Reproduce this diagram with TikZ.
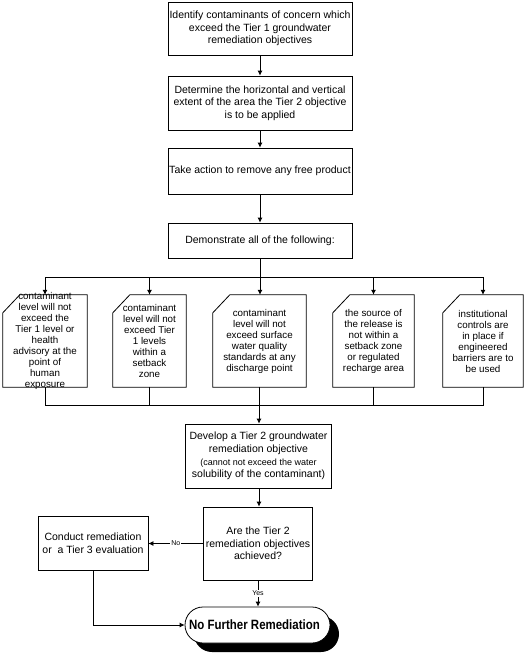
\documentclass[tikz,border=0pt]{standalone}
\usepackage{fontspec}
\setmainfont{Liberation Sans}
\usetikzlibrary{arrows.meta,shadows}
\begin{document}
\begin{tikzpicture}[x=1pt,y=-1pt,
  ln/.style={line width=0.8pt},
  arr/.style={line width=0.8pt,-{Latex[length=5pt,width=5pt]}},
  mainbox/.style={draw,line width=0.8pt,align=center,inner sep=0pt,font=\fontsize{10.5}{12.7}\selectfont},
  sideshape/.style={inner sep=0pt,minimum height=92pt},
  sidetext/.style={align=center,inner sep=0pt,font=\fontsize{9.8}{11}\selectfont},
  lbl/.style={fill=white,inner sep=1pt,font=\fontsize{7}{8}\selectfont},
  term/.style={draw,line width=0.8pt,rounded corners=18pt,minimum width=145pt,minimum height=36pt,fill=white,inner sep=0pt,
    drop shadow={shadow xshift=9pt,shadow yshift=-9pt,fill=black,opacity=1}}]
\useasboundingbox (0,0) rectangle (526,656);

% main column
\node[mainbox,minimum width=184pt,minimum height=53pt] (b1) at (260,28.5) {Identify contaminants of concern which\\exceed the Tier 1 groundwater\\remediation objectives};
\node[mainbox,minimum width=184pt,minimum height=54pt] (b2) at (260,103) {Determine the horizontal and vertical\\extent of the area the Tier 2 objective\\is to be applied};
\node[mainbox,minimum width=184pt,minimum height=46pt] (b3) at (260,171) {Take action to remove any free product};
\node[mainbox,minimum width=184pt,minimum height=35pt] (b4) at (260,240.5) {Demonstrate all of the following:};

% side boxes (shapes)
\node[sideshape,minimum width=84pt] (sA) at (45,341) {};
\node[sideshape,minimum width=73pt] (sB) at (149.5,341) {};
\node[sideshape,minimum width=93pt] (sC) at (259.5,341) {};
\node[sideshape,minimum width=81pt] (sD) at (373.5,341) {};
\node[sideshape,minimum width=80pt] (sE) at (483,341) {};
\foreach \n in {sA,sB,sC,sD,sE}
  \draw[ln] ([xshift=17pt]\n.north west) -- (\n.north east) -- (\n.south east) -- (\n.south west) -- ([yshift=-18pt]\n.north west) -- cycle;

% side box texts
\node[sidetext] (tA) at (sA.center) {contaminant\\level will not\\exceed the\\Tier 1 level or\\health\\advisory at the\\point of\\human\\exposure};
\node[sidetext] (tB) at (sB.center) {contaminant\\level will not\\exceed Tier\\1 levels\\within a\\setback\\zone};
\node[sidetext] (tC) at (sC.center) {contaminant\\level will not\\exceed surface\\water quality\\standards at any\\discharge point};
\node[sidetext] (tD) at (sD.center) {the source of\\the release is\\not within a\\setback zone\\or regulated\\recharge area};
\node[sidetext] (tE) at (sE.center) {institutional\\controls are\\in place if\\engineered\\barriers are to\\be used};

% lower part
\node[mainbox,minimum width=146pt,minimum height=64pt] (dev) at (258.5,456) {Develop a Tier 2 groundwater\\remediation objective\\\fontsize{9}{11}\selectfont (cannot not exceed the water\\solubility of the contaminant)};
\node[mainbox,minimum width=109pt,minimum height=73pt] (are) at (258,543.5) {Are the Tier 2\\remediation objectives\\achieved?};
\node[mainbox,minimum width=110pt,minimum height=54pt] (cond) at (93,543) {Conduct remediation\\or\ \ a Tier 3 evaluation};
\node[term] (t) at (257.5,625) {\fontsize{13.5}{16}\selectfont\bfseries\scalebox{0.85}[1]{No Further Remediation}\hspace*{6pt}};

% connectors
\coordinate (bt) at (260,277);
\coordinate (bb) at (259,405);
\draw[arr] (b1.south) -- (b2.north);
\draw[arr] (b2.south) -- (b3.north);
\draw[arr] (b3.south) -- (b4.north);
\draw[ln] (b4.south) -- (bt);
\foreach \n in {sA,sB,sD,sE}
  \draw[arr] (bt) -| (\n.north);
\draw[arr] (bt) -- (bt |- sC.north);
\foreach \n in {sA,sB,sC,sD,sE}
  \draw[ln] (\n.south) |- (bb);
\draw[arr] (bb) -- (bb |- dev.north);
\draw[arr] (bb |- dev.south) -- (bb |- are.north);
\draw[arr] (are.west) -- (are.west -| cond.east) node[midway,lbl] {No};
\draw[arr] (are.south) -- (are.south |- t.north) node[midway,lbl] {Yes};
\draw[arr] (cond.south) |- (t.west);
\end{tikzpicture}
\end{document}
